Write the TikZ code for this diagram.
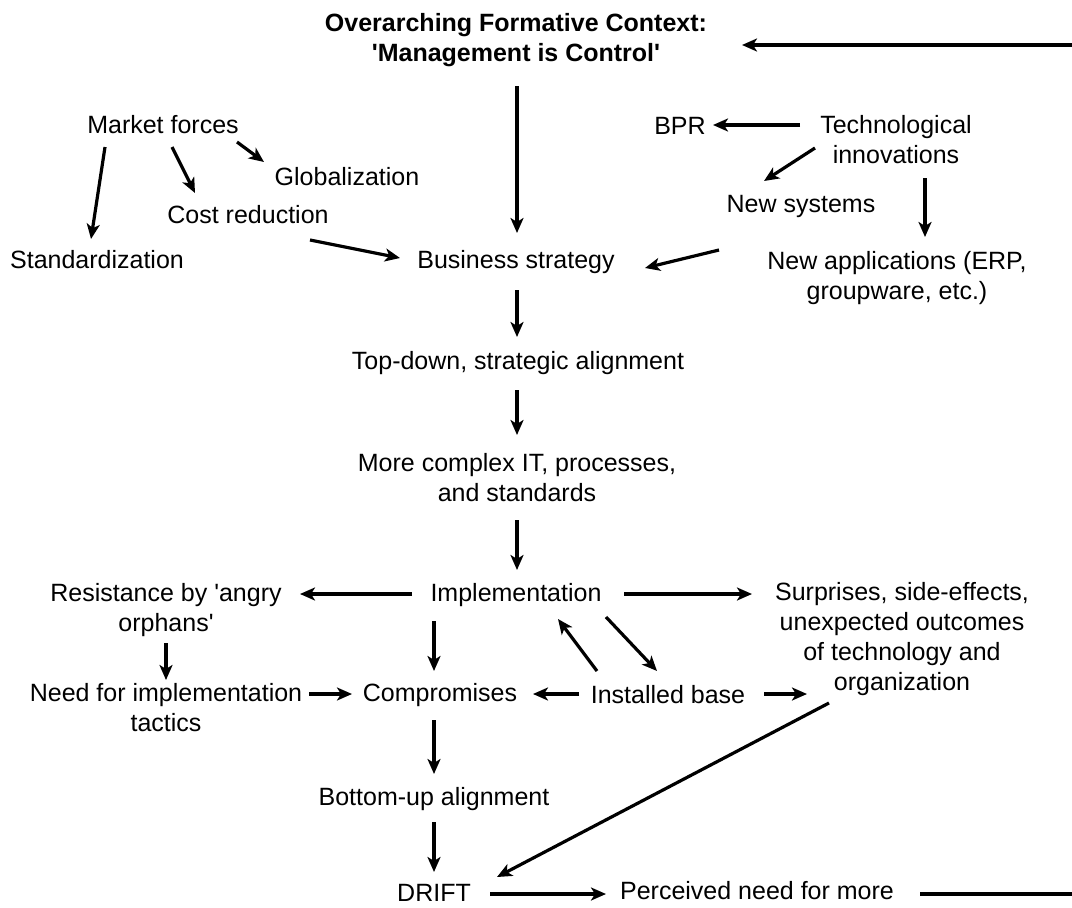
\documentclass[tikz,border=0pt]{standalone}
\usepackage{fontspec}
\setmainfont{Liberation Sans}
\usetikzlibrary{calc}
\usetikzlibrary{arrows.meta}
\newcommand{\link}[4]{ \draw[link] ($(#1)+(#2)$) -- ($(#3)+(#4)$);}
\tikzset{lbl/.style={inner sep=0pt, align=center, font=\fontsize{25}{30}\selectfont},
  link/.style={line width=3.2pt, -{Stealth[length=15pt,width=13pt,inset=4pt]}},
  plain/.style={line width=3.2pt}}

\begin{document}
\begin{tikzpicture}[x=1pt,y=-1pt]
\useasboundingbox (0,0) rectangle (1072,908);
% top
\node[lbl, font=\fontsize{25}{30}\selectfont\bfseries] (ctx) at (516,40) {Overarching Formative Context:\\\textquotesingle Management is Control\textquotesingle};
\node[lbl] (mf) at (163,125) {Market forces};
\node[lbl] (glob) at (347,177) {Globalization};
\node[lbl] (cost) at (248,215) {Cost reduction};
\node[lbl] (std) at (97,260) {Standardization};
\node[lbl] (bs) at (516,262) {Business strategy};
\node[lbl] (bpr) at (680,126) {BPR};
\node[lbl] (tech) at (896,140) {Technological\\innovations};
\node[lbl] (newsys) at (801,206) {New systems};
\node[lbl] (newapp) at (897,278) {New applications (ERP,\\groupware, etc.)};
% middle
\node[lbl] (topdown) at (518,363) {Top-down, strategic alignment};
\node[lbl] (complex) at (517,478) {More complex IT, processes,\\and standards};
\node[lbl] (impl) at (516,595) {Implementation};
\node[lbl] (resist) at (166,610) {Resistance by \textquotesingle angry\\orphans\textquotesingle};
\node[lbl] (surpr) at (902,639) {Surprises, side-effects,\\unexpected outcomes\\of technology and\\organization};
\node[lbl] (need) at (166,708) {Need for implementation\\tactics};
\node[lbl] (comp) at (440,695) {Compromises};
\node[lbl] (inst) at (668,695) {Installed base};
% bottom
\node[lbl] (bottom) at (434,799) {Bottom-up alignment};
\node[lbl] (drift) at (434,893) {DRIFT};
\node[lbl] (perc) at (757,891) {Perceived need for more};
\coordinate (fbout) at (1072,894);
\coordinate (fbin) at (1072,45);
% arrows top
\link{ctx}{1,46}{bs}{1,-29}
\link{mf}{-58,22}{std}{-6,-21}
\link{mf}{9,22}{cost}{-53,-22}
\link{mf}{74,17}{glob}{-83,-15}
\link{cost}{62,25}{bs}{-116,-4}
\link{tech}{-96,-15}{bpr}{33,-1}
\link{tech}{-81,8}{newsys}{-37,-25}
\link{tech}{29,38}{newapp}{28,-41}
\link{newapp}{-178,-28}{bs}{129,6}
% arrows middle
\link{bs}{1,28}{topdown}{-1,-26}
\link{topdown}{-1,27}{complex}{0,-43}
\link{complex}{0,42}{impl}{1,-25}
\link{impl}{-104,-1}{resist}{134,-16}
\link{impl}{108,-1}{surpr}{-150,-45}
\link{impl}{-82,26}{comp}{-6,-24}
\link{inst}{-71,-24}{impl}{42,24}
\link{impl}{90,22}{inst}{-11,-24}
\link{resist}{0,33}{need}{0,-28}
\link{need}{143,-14}{comp}{-88,-1}
\link{inst}{-89,-1}{comp}{93,-1}
\link{inst}{96,-1}{surpr}{-95,55}
% arrows bottom
\link{comp}{-6,25}{bottom}{0,-25}
\link{bottom}{0,23}{drift}{0,-21}
\link{surpr}{-73,64}{drift}{63,-16}
\link{drift}{56,1}{perc}{-151,3}
\draw[plain] ($(perc)+(163,3)$) -- (fbout);
\draw[link] (fbin) -- ($(ctx)+(226,5)$);
\end{tikzpicture}
\end{document}
